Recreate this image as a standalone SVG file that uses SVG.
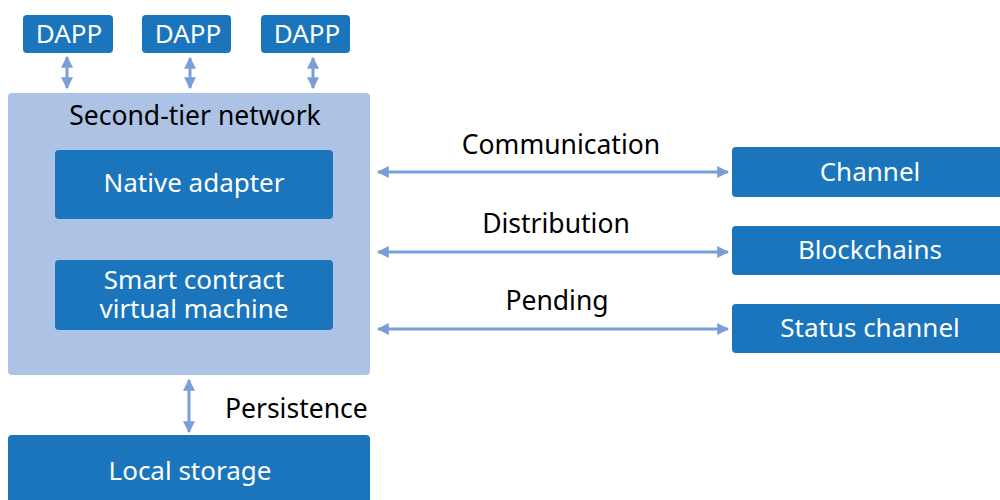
<svg xmlns="http://www.w3.org/2000/svg" width="1000" height="500" viewBox="0 0 1000 500">
<defs>
<style>
.dark{fill:#1a75bc}
.light{fill:#adc3e6}
.wt{fill:#fff;font-family:"Noto Sans","Open Sans",sans-serif;font-size:26px;text-anchor:middle}
.bt{fill:#000;font-family:"Noto Sans","Open Sans",sans-serif;font-size:26.5px}
.conn{stroke:#7a9fd6;stroke-width:3;fill:none;marker-start:url(#ah);marker-end:url(#ah)}
</style>
<marker id="ah" viewBox="0 0 10 10" refX="9" refY="5" markerWidth="4" markerHeight="4.4" orient="auto-start-reverse" markerUnits="strokeWidth">
<path d="M0,0 L10,5 L0,10 z" fill="#7a9fd6"/>
</marker>
</defs>
<rect width="1000" height="500" fill="#fff"/>
<g id="connectors">
<line class="conn" x1="67" y1="57" x2="67" y2="88"/>
<line class="conn" x1="190" y1="58" x2="190" y2="88"/>
<line class="conn" x1="313" y1="58" x2="313" y2="88"/>
<line class="conn" x1="378" y1="172" x2="728" y2="172"/>
<line class="conn" x1="378" y1="252" x2="728" y2="252"/>
<line class="conn" x1="378" y1="329" x2="728" y2="329"/>
<line class="conn" x1="189" y1="380" x2="189" y2="432"/>
<text class="bt" x="561" y="154" text-anchor="middle">Communication</text>
<text class="bt" x="556" y="233" text-anchor="middle">Distribution</text>
<text class="bt" x="557" y="310" text-anchor="middle">Pending</text>
<text class="bt" x="225" y="418">Persistence</text>
</g>
<g id="dapp1"><rect class="dark" x="23" y="15" width="90" height="38" rx="4"/><text class="wt" x="69" y="43">DAPP</text></g>
<g id="dapp2"><rect class="dark" x="142" y="15" width="89" height="38" rx="4"/><text class="wt" x="188" y="43">DAPP</text></g>
<g id="dapp3"><rect class="dark" x="261" y="15" width="89" height="38" rx="4"/><text class="wt" x="307" y="43">DAPP</text></g>
<g id="second-tier"><rect class="light" x="8" y="93" width="362" height="282" rx="4"/><text class="bt" x="195" y="125" text-anchor="middle">Second-tier network</text></g>
<g id="native-adapter"><rect class="dark" x="55" y="150" width="278" height="69" rx="4"/><text class="wt" x="194" y="192">Native adapter</text></g>
<g id="smart-contract"><rect class="dark" x="55" y="260" width="278" height="70" rx="4"/><text class="wt" x="194" y="289"><tspan x="194" y="289">Smart contract</tspan><tspan x="194" y="318">virtual machine</tspan></text></g>
<g id="channel"><rect class="dark" x="732" y="147" width="280" height="50" rx="4"/><text class="wt" x="870" y="181">Channel</text></g>
<g id="blockchains"><rect class="dark" x="732" y="226" width="280" height="49" rx="4"/><text class="wt" x="870" y="259">Blockchains</text></g>
<g id="status-channel"><rect class="dark" x="732" y="304" width="280" height="49" rx="4"/><text class="wt" x="870" y="337">Status channel</text></g>
<g id="local-storage"><rect class="dark" x="8" y="435" width="362" height="80" rx="4"/><text class="wt" x="190" y="480">Local storage</text></g>
</svg>
